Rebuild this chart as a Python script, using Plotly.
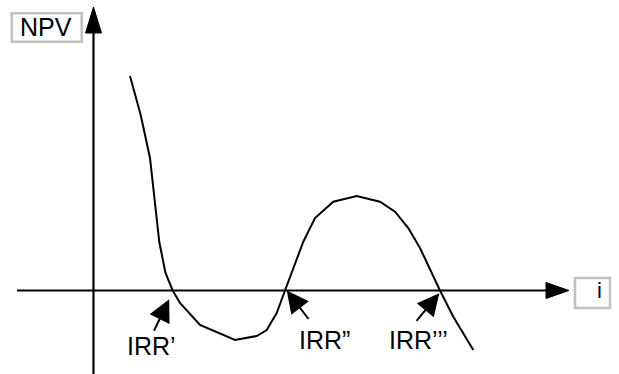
import plotly.graph_objects as go

# NPV profile sampled along the discount rate i (arbitrary units)
i_vals = [3.65, 4.72, 5.65, 6.15, 6.58, 7.20, 7.92, 8.65, 10.65, 14.15, 16.32,
          17.32, 18.32, 19.15, 20.98, 22.15, 23.98, 26.32, 28.65, 30.15, 31.48,
          32.65, 34.65, 35.98, 37.98]
npv_vals = [21.45, 17.55, 13.25, 8.35, 4.85, 1.75, 0.0, -1.25, -3.45, -4.95, -4.55,
            -3.95, -2.25, 0.0, 4.88, 7.25, 8.88, 9.45, 8.88, 7.88, 6.25,
            4.25, 0.0, -2.62, -5.95]

# Internal rates of return (roots of the NPV profile) and their labels
irr_roots = [7.92, 19.32, 34.58]
irr_labels = ["IRR\u2019", "IRR\u201d", "IRR\u2019\u2019\u2019"]

axis_font = dict(family="Liberation Sans, Arial, sans-serif", size=25, color="black")

fig = go.Figure()
fig.add_trace(go.Scatter(x=i_vals, y=npv_vals, mode="lines",
                         line=dict(color="black", width=2), hoverinfo="skip"))

X_RANGE = [-9.35, 52.55]
Y_RANGE = [-8.35, 29.05]

shapes = [
    # horizontal axis (i) and vertical axis (NPV)
    dict(type="line", x0=-7.65, x1=45.4, y0=0, y1=0, line=dict(color="black", width=2.2)),
    dict(type="line", x0=0, x1=0, y0=-9, y1=25.9, line=dict(color="black", width=2.2)),
    # arrow heads
    dict(type="path", path="M 47.55 0 L 45.25 0.8 L 45.25 -0.8 Z",
         fillcolor="black", line=dict(color="black", width=1)),
    dict(type="path", path="M 0 28.35 L -0.8 25.75 L 0.8 25.75 Z",
         fillcolor="black", line=dict(color="black", width=1)),
    # label frames
    dict(type="rect", x0=-8.18, x1=-1.18, y0=24.88, y1=27.72,
         line=dict(color="#c0c0c0", width=2.5)),
    dict(type="rect", x0=48.15, x1=51.65, y0=-1.75, y1=1.25,
         line=dict(color="#c0c0c0", width=2.5)),
]

annotations = [
    dict(x=-4.73, y=26.35, text="NPV", showarrow=False, font=axis_font,
         xanchor="center", yanchor="middle"),
    dict(x=50.55, y=0.0, text="i", showarrow=False, font=dict(axis_font, size=22),
         xanchor="center", yanchor="middle"),
]

# arrows pointing at each root, with pixel offsets for the tails
tip_shift = [(-0.35, -0.88), (0.0, 0.0), (0.0, -0.28)]
tail_off = [(-16, 33), (23, 30), (-24, 29)]
label_x = [3.15, 20.35, 29.35]
label_y = [-5.5, -4.9, -4.9]
for r, (dx, dy), (ax, ay), lx, ly, txt in zip(irr_roots, tip_shift, tail_off,
                                              label_x, label_y, irr_labels):
    annotations.append(dict(x=r + dx, y=dy, ax=ax, ay=ay, text="",
                            showarrow=True, arrowhead=2, arrowsize=2.2, arrowwidth=2,
                            arrowcolor="black", standoff=0))
    annotations.append(dict(x=lx, y=ly, text=txt, showarrow=False, font=axis_font,
                            xanchor="left", yanchor="middle"))

fig.update_layout(
    width=619, height=374,
    margin=dict(l=0, r=0, t=0, b=0),
    paper_bgcolor="white", plot_bgcolor="white",
    showlegend=False,
    xaxis=dict(range=X_RANGE, visible=False, fixedrange=True),
    yaxis=dict(range=Y_RANGE, visible=False, fixedrange=True),
    shapes=shapes,
    annotations=annotations,
)

fig.write_html("out.html")
